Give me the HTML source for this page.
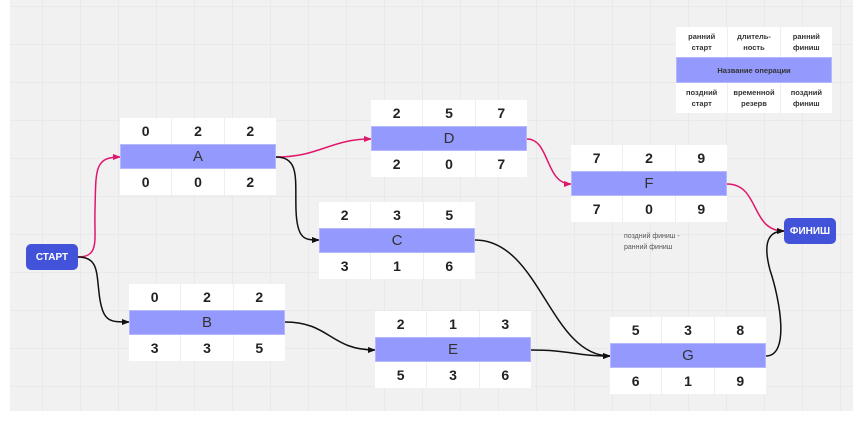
<!DOCTYPE html>
<html><head><meta charset="utf-8"><style>
*{margin:0;padding:0;box-sizing:border-box}
body{width:866px;height:423px;background:#fff;position:relative;overflow:hidden;font-family:"Liberation Sans","DejaVu Sans",sans-serif}
#bg{position:absolute;left:10px;top:0;width:843px;height:411px;background-color:#f1f1f1;
background-image:linear-gradient(#e9e9e9 1px,transparent 1px),linear-gradient(90deg,#e9e9e9 1px,transparent 1px);background-size:38px 38px;background-position:-6px 6px}
.n{position:absolute;width:156px}
.r{display:flex;height:26px;background:#fff}
.r div{flex:1;display:flex;align-items:center;justify-content:center;font-weight:bold;font-size:14px;color:#222;border-right:1px solid #eee}
.r div:last-child{border-right:none}
.m{height:25px;background:#9499fd;border:1px solid #b5b8fb;display:flex;align-items:center;justify-content:center;font-size:15px;color:#333}
.btn{position:absolute;width:52px;height:26px;background:#4353d9;border-radius:5px;color:#fff;font-size:10px;font-weight:bold;display:flex;align-items:center;justify-content:center}
.lg{position:absolute;left:676px;top:27px;width:156px}
.lg .r{height:30px}
.lg .r div{font-size:7.5px;text-align:center;line-height:11px;color:#333}
.lg .m{height:26px;font-size:7.5px;font-weight:bold;color:#333}
svg{position:absolute;left:0;top:0}
</style></head><body>
<div id="bg"></div>
<svg width="866" height="423">
<defs>
<marker id="p" markerWidth="8" markerHeight="8" refX="7" refY="4" orient="auto" markerUnits="userSpaceOnUse"><path d="M0,1 L8,4 L0,7z" fill="#e0186c"/></marker>
<marker id="k" markerWidth="8" markerHeight="8" refX="7" refY="4" orient="auto" markerUnits="userSpaceOnUse"><path d="M0,1 L8,4 L0,7z" fill="#111"/></marker>
</defs>
<g fill="none" stroke-width="1.5">
<path d="M78,257 C100,257 94,240 95,210 C96,170 94,157 120,157" stroke="#e0186c" marker-end="url(#p)"/>
<path d="M78,257 C100,257 96,275 100,300 C104,322 110,322 129,322" stroke="#111" marker-end="url(#k)"/>
<path d="M276,157 C320,157 330,139 371,139" stroke="#e0186c" marker-end="url(#p)"/>
<path d="M276,157 C300,157 295,180 296,210 C297,240 305,240 319,240" stroke="#111" marker-end="url(#k)"/>
<path d="M527,139 C550,139 545,184 571,184" stroke="#e0186c" marker-end="url(#p)"/>
<path d="M475,240 C540,240 550,356 610,356" stroke="#111" marker-end="url(#k)"/>
<path d="M285,322 C330,322 330,350 375,350" stroke="#111" marker-end="url(#k)"/>
<path d="M531,350 C570,350 575,356 610,356" stroke="#111" marker-end="url(#k)"/>
<path d="M727,184 C760,184 750,231 784,231" stroke="#e0186c" marker-end="url(#p)"/>
<path d="M766,356 C790,356 780,300 770,270 C762,240 770,231 784,231" stroke="#111" marker-end="url(#k)"/>
</g>
<text x="624" y="238" font-size="7" fill="#555" font-family="Liberation Sans,sans-serif">поздний финиш -</text>
<text x="624" y="249" font-size="7" fill="#555" font-family="Liberation Sans,sans-serif">ранний финиш</text>
</svg>
<div class="btn" style="left:26px;top:244px">СТАРТ</div>
<div class="btn" style="left:784px;top:218px">ФИНИШ</div>
<div class="lg"><div class="r"><div>ранний<br>старт</div><div>длитель-<br>ность</div><div>ранний<br>финиш</div></div><div class="m">Название операции</div><div class="r"><div>поздний<br>старт</div><div>временной<br>резерв</div><div>поздний<br>финиш</div></div></div>
<div class="n" style="left:120px;top:118px"><div class="r"><div>0</div><div>2</div><div>2</div></div><div class="m">A</div><div class="r"><div>0</div><div>0</div><div>2</div></div></div>
<div class="n" style="left:371px;top:100px"><div class="r"><div>2</div><div>5</div><div>7</div></div><div class="m">D</div><div class="r"><div>2</div><div>0</div><div>7</div></div></div>
<div class="n" style="left:571px;top:145px"><div class="r"><div>7</div><div>2</div><div>9</div></div><div class="m">F</div><div class="r"><div>7</div><div>0</div><div>9</div></div></div>
<div class="n" style="left:319px;top:202px"><div class="r"><div>2</div><div>3</div><div>5</div></div><div class="m">C</div><div class="r"><div>3</div><div>1</div><div>6</div></div></div>
<div class="n" style="left:129px;top:284px"><div class="r"><div>0</div><div>2</div><div>2</div></div><div class="m">B</div><div class="r"><div>3</div><div>3</div><div>5</div></div></div>
<div class="n" style="left:375px;top:311px"><div class="r"><div>2</div><div>1</div><div>3</div></div><div class="m">E</div><div class="r"><div>5</div><div>3</div><div>6</div></div></div>
<div class="n" style="left:610px;top:317px"><div class="r"><div>5</div><div>3</div><div>8</div></div><div class="m">G</div><div class="r"><div>6</div><div>1</div><div>9</div></div></div>
</body></html>
